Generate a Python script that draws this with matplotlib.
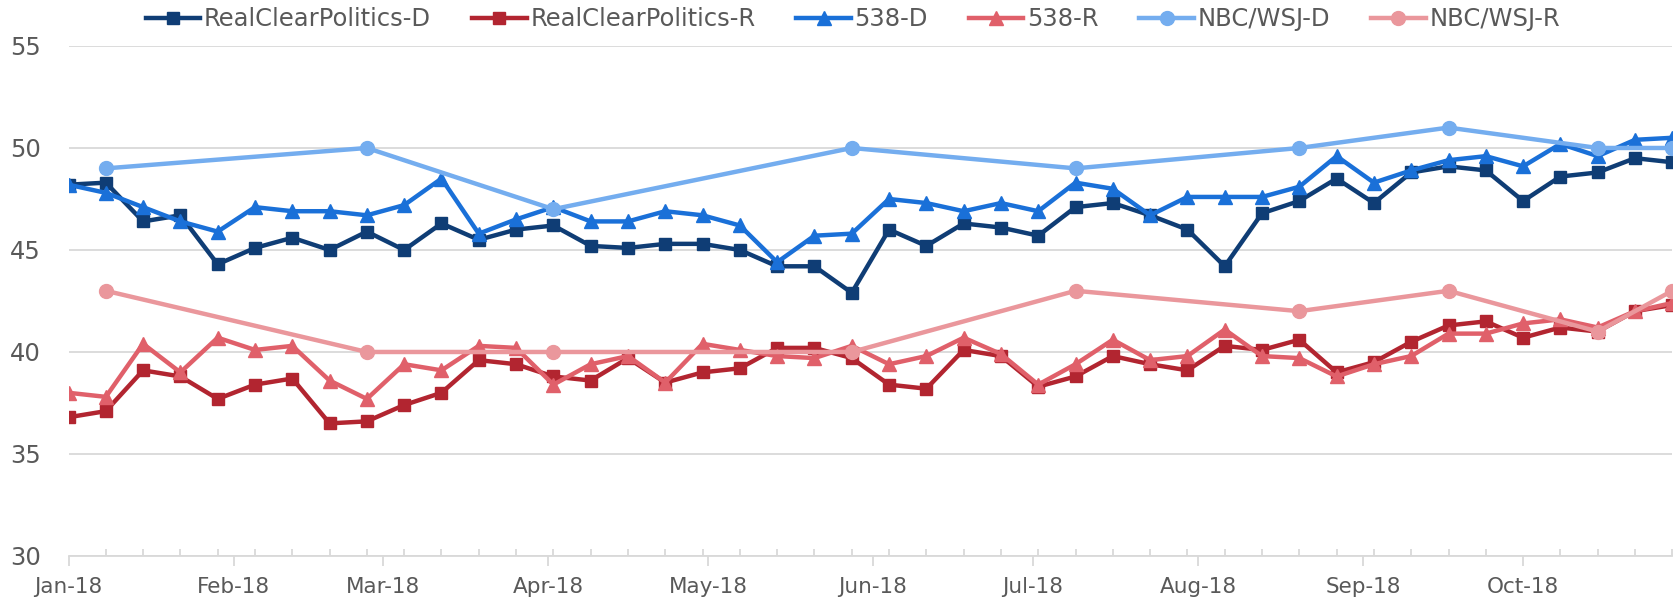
import numpy as np
import pandas as pd
import matplotlib
matplotlib.use("Agg")
import matplotlib.pyplot as plt
import matplotlib.dates as mdates

# weekly poll dates (Mondays), Jan 1 2018 .. Oct 29 2018
weeks = pd.date_range("2018-01-01", "2018-10-29", freq="7D")

rcp_d = [48.2, 48.3, 46.4, 46.7, 44.3, 45.1, 45.6, 45.0, 45.9, 45.0,
         46.3, 45.5, 46.0, 46.2, 45.2, 45.1, 45.3, 45.3, 45.0, 44.2,
         44.2, 42.9, 46.0, 45.2, 46.3, 46.1, 45.7, 47.1, 47.3, 46.7,
         46.0, 44.2, 46.8, 47.4, 48.5, 47.3, 48.8, 49.1, 48.9, 47.4,
         48.6, 48.8, 49.5, 49.3]
rcp_r = [36.8, 37.1, 39.1, 38.8, 37.7, 38.4, 38.7, 36.5, 36.6, 37.4,
         38.0, 39.6, 39.4, 38.8, 38.6, 39.7, 38.5, 39.0, 39.2, 40.2,
         40.2, 39.7, 38.4, 38.2, 40.1, 39.8, 38.3, 38.8, 39.8, 39.4,
         39.1, 40.3, 40.1, 40.6, 39.0, 39.5, 40.5, 41.3, 41.5, 40.7,
         41.2, 41.0, 42.0, 42.3]
f38_d = [48.2, 47.8, 47.1, 46.4, 45.9, 47.1, 46.9, 46.9, 46.7, 47.2,
         48.5, 45.8, 46.5, 47.1, 46.4, 46.4, 46.9, 46.7, 46.2, 44.4,
         45.7, 45.8, 47.5, 47.3, 46.9, 47.3, 46.9, 48.3, 48.0, 46.7,
         47.6, 47.6, 47.6, 48.1, 49.6, 48.3, 48.9, 49.4, 49.6, 49.1,
         50.2, 49.6, 50.4, 50.5]
f38_r = [38.0, 37.8, 40.4, 39.0, 40.7, 40.1, 40.3, 38.6, 37.7, 39.4,
         39.1, 40.3, 40.2, 38.4, 39.4, 39.8, 38.5, 40.4, 40.1, 39.8,
         39.7, 40.3, 39.4, 39.8, 40.7, 39.9, 38.4, 39.4, 40.6, 39.6,
         39.8, 41.1, 39.8, 39.7, 38.8, 39.4, 39.8, 40.9, 40.9, 41.4,
         41.6, 41.2, 42.0, 42.4]
# NBC/WSJ polls only on some weeks (week index -> value)
nbc_idx = [1, 8, 13, 21, 27, 33, 37, 41, 43]
nbc_d = [49, 50, 47, 50, 49, 50, 51, 50, 50]
nbc_r = [43, 40, 40, 40, 43, 42, 43, 41, 43]

labels = ["RealClearPolitics-D", "RealClearPolitics-R", "538-D", "538-R",
          "NBC/WSJ-D", "NBC/WSJ-R"]
colors = ["#0f3d75", "#b22530", "#1a70d8", "#e0606a", "#74adef", "#ea979c"]

plt.rcParams["font.family"] = ["DejaVu Sans"]
fig = plt.figure(figsize=(16.79, 6.01), dpi=100)
ax = fig.add_axes([0.0408, 0.0749, 0.9552, 0.8486])

lw = 3.2
ax.plot(weeks, rcp_d, color=colors[0], lw=lw, marker="s", ms=9, label=labels[0])
ax.plot(weeks, rcp_r, color=colors[1], lw=lw, marker="s", ms=9, label=labels[1])
ax.plot(weeks, f38_d, color=colors[2], lw=lw, marker="^", ms=10, label=labels[2])
ax.plot(weeks, f38_r, color=colors[3], lw=lw, marker="^", ms=10, label=labels[3])
nbc_dates = weeks[nbc_idx]
ax.plot(nbc_dates, nbc_d, color=colors[4], lw=lw, marker="o", ms=10, label=labels[4])
ax.plot(nbc_dates, nbc_r, color=colors[5], lw=lw, marker="o", ms=10, label=labels[5])

ax.set_ylim(30, 55)
ax.set_yticks([30, 35, 40, 45, 50, 55])
ax.set_xlim(weeks[0], weeks[-1])

ax.xaxis.set_major_locator(mdates.MonthLocator())
ax.xaxis.set_major_formatter(mdates.DateFormatter("%b-%y"))
ax.set_xticks(weeks, minor=True)

grid_col = "#d9d9d9"
ax.grid(axis="y", color=grid_col, lw=1.3)
ax.set_axisbelow(True)
for s in ["top", "right", "left"]:
    ax.spines[s].set_visible(False)
ax.spines["bottom"].set_color(grid_col)
ax.spines["bottom"].set_linewidth(1.3)

ax.tick_params(axis="y", length=0, pad=20, labelsize=17.5, labelcolor="#595959")
ax.tick_params(axis="x", which="major", direction="out", length=7, width=1.3,
               color=grid_col, pad=8, labelsize=15.5, labelcolor="#595959")
ax.tick_params(axis="x", which="minor", direction="in", length=5, width=1.3,
               color=grid_col)

leg = ax.legend(loc="center", bbox_to_anchor=(0.508, 0.968),
                bbox_transform=fig.transFigure, ncol=6, frameon=False,
                fontsize=17.5, handlelength=2.25, handletextpad=0.15,
                columnspacing=1.68)
for t in leg.get_texts():
    t.set_color("#595959")

fig.savefig("out.png", dpi=100)
